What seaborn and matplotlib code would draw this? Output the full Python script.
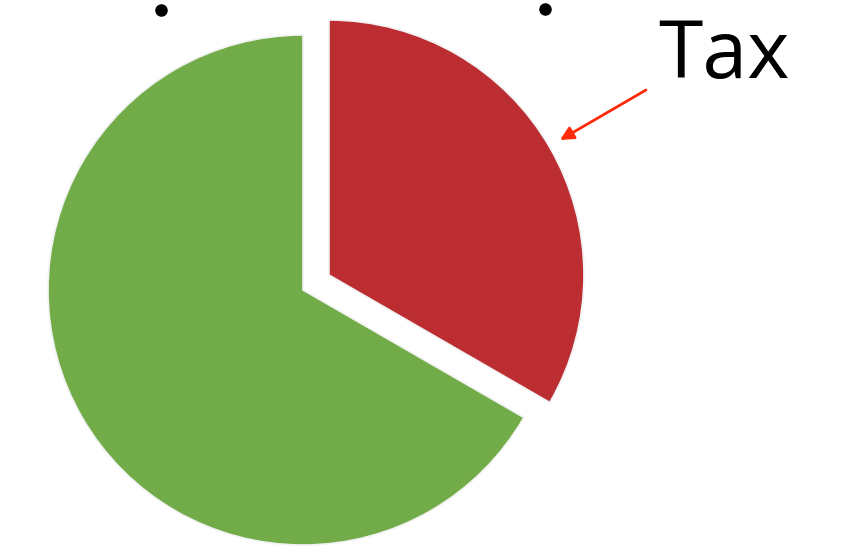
import matplotlib
matplotlib.use("Agg")
import matplotlib.pyplot as plt
import seaborn as sns

# data: share of each slice
labels = ["Tax", "Other"]
shares = [1 / 3, 2 / 3]
colors = ["#BC2D31", "#71AC48"]

sns.set_theme(style="white")
plt.rcParams["font.family"] = ["Open Sans", "DejaVu Sans"]

W, H = 846, 546
fig = plt.figure(figsize=(W / 100, H / 100), dpi=100)
ax = fig.add_axes([0, 0, 1, 1])

radius = 255
center = (303, H - 290)
explode = [30, 0]  # pie uses absolute data units for the offset

ax.pie(
    shares,
    colors=colors,
    explode=explode,
    startangle=90,
    counterclock=False,
    radius=radius,
    center=center,
    wedgeprops=dict(edgecolor="#f2f2f2", linewidth=1.2),
    frame=True,
)
ax.set_xlim(0, W)
ax.set_ylim(0, H)
ax.set_aspect("equal")
ax.axis("off")

# leftover bits of a cut-off title at the top edge
for x, y in [(161, H - 10), (545, H - 9)]:
    ax.plot(x, y, "o", color="black", markersize=8)

ax.text(658, H - 78, labels[0], fontsize=58, color="black", ha="left", va="baseline")
ax.annotate(
    "",
    xy=(560, H - 140),
    xytext=(646, H - 90),
    arrowprops=dict(arrowstyle="-|>", color="#FF2A0A", lw=2, mutation_scale=20,
                    shrinkA=0, shrinkB=0),
)

fig.savefig("out.png", dpi=100)
